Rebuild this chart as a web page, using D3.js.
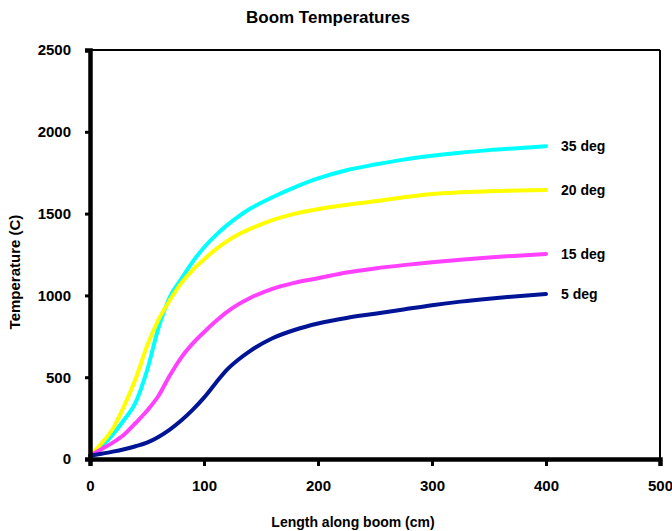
<!DOCTYPE html>
<html>
<head>
<meta charset="utf-8">
<script src="https://d3js.org/d3.v7.min.js"></script>
<style>
  body { margin: 0; background: #fff; }
  text { font-family: Arial, "Liberation Sans", sans-serif; font-weight: bold; fill: #000; }
</style>
</head>
<body>
<svg id="chart" width="672" height="531"></svg>
<script>
// lengths along boom (cm)
const lengths = [0, 10, 20, 30, 40, 50, 60, 70, 80, 90, 100, 110, 120, 130, 140, 160, 180, 200, 225, 250, 275, 300, 325, 350, 375, 400];

// temperatures (C) per series
const deg5  = [20, 32, 45, 60, 78, 100, 135, 180, 235, 300, 375, 462, 545, 607, 658, 738, 790, 828, 862, 888, 914, 940, 962, 980, 995, 1008];
const deg15 = [20, 60, 100, 150, 220, 295, 385, 510, 620, 705, 775, 840, 898, 945, 983, 1040, 1078, 1105, 1140, 1165, 1185, 1202, 1218, 1232, 1243, 1253];
const deg20 = [20, 95, 185, 325, 490, 690, 850, 970, 1075, 1155, 1220, 1280, 1330, 1372, 1405, 1460, 1500, 1527, 1553, 1575, 1600, 1620, 1630, 1636, 1641, 1645];
const deg35 = [20, 75, 150, 240, 345, 540, 800, 990, 1100, 1205, 1293, 1365, 1428, 1482, 1528, 1600, 1662, 1715, 1765, 1800, 1830, 1853, 1872, 1888, 1900, 1912];

const seriesNames = ["35 deg", "20 deg", "15 deg", "5 deg"];
const seriesValues = [deg35, deg20, deg15, deg5];
const seriesColors = ["#00ffff", "#ffff00", "#ff40ff", "#001496"];

const xTicks = [0, 100, 200, 300, 400, 500];
const yTicks = [0, 500, 1000, 1500, 2000, 2500];

const svg = d3.select("#chart");
const plotL = 90, plotR = 660, plotT = 50, plotB = 459;

const x = d3.scaleLinear().domain([0, 500]).range([plotL, plotR]);
const y = d3.scaleLinear().domain([0, 2500]).range([plotB, plotT]);

// frame: thin top/right
svg.append("line").attr("x1", plotL).attr("x2", plotR).attr("y1", plotT).attr("y2", plotT)
  .attr("stroke", "#000").attr("stroke-width", 2);
svg.append("line").attr("x1", plotR).attr("x2", plotR).attr("y1", plotT).attr("y2", plotB)
  .attr("stroke", "#000").attr("stroke-width", 2);

// series
const line = d3.line().x(d => x(d[0])).y(d => y(d[1])).curve(d3.curveMonotoneX);
seriesValues.forEach((vals, i) => {
  const pts = lengths.map((l, j) => [l, vals[j]]);
  svg.append("path")
    .attr("d", line(pts))
    .attr("fill", "none")
    .attr("stroke", seriesColors[i])
    .attr("stroke-width", 4)
    .attr("stroke-linecap", "round")
    .attr("stroke-linejoin", "round");
  svg.append("text")
    .attr("x", x(400) + 15)
    .attr("y", y(vals[vals.length - 1]))
    .attr("dy", "0.35em")
    .style("font-size", "14px")
    .text(seriesNames[i]);
});

// y axis
const yAxis = svg.append("g").attr("transform", `translate(${plotL},0)`)
  .call(d3.axisLeft(y).tickValues(yTicks).tickFormat(d3.format("d")).tickSize(5).tickPadding(14));
yAxis.select(".domain").attr("stroke-width", 4.5);
yAxis.selectAll(".tick line").attr("stroke-width", 3);
yAxis.selectAll(".tick text").style("font-size", "15px").style("font-family", "Arial, 'Liberation Sans', sans-serif").style("font-weight", "bold");

// x axis
const xAxis = svg.append("g").attr("transform", `translate(0,${plotB})`)
  .call(d3.axisBottom(x).tickValues(xTicks).tickFormat(d3.format("d")).tickSize(7).tickPadding(14));
xAxis.select(".domain").attr("stroke-width", 4.5);
xAxis.selectAll(".tick line").attr("stroke-width", 3);
xAxis.selectAll(".tick text").style("font-size", "15px").style("font-family", "Arial, 'Liberation Sans', sans-serif").style("font-weight", "bold");

// titles
svg.append("text").attr("x", 328).attr("y", 23).attr("text-anchor", "middle")
  .style("font-size", "17px").text("Boom Temperatures");
svg.append("text").attr("x", 353).attr("y", 527).attr("text-anchor", "middle")
  .style("font-size", "14px").text("Length along boom (cm)");
svg.append("text").attr("transform", "translate(20,272) rotate(-90)").attr("text-anchor", "middle")
  .style("font-size", "15px").text("Temperature (C)");
</script>
</body>
</html>
